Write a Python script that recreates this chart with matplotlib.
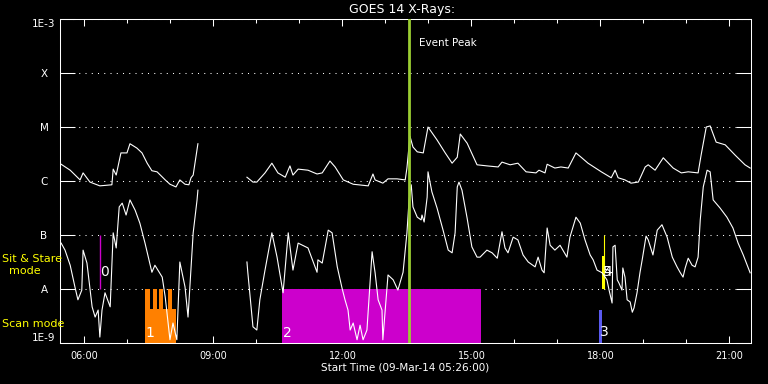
import numpy as np
import matplotlib.pyplot as plt
from matplotlib.ticker import NullLocator

# GOES 14 X-ray light curves, 09-Mar-2014
# time in hours UT, flux given as log10(W/m^2), data gap ~08:40-09:45
LONG_T1 = [5.46, 5.67, 5.90, 5.97, 6.13, 6.36, 6.64, 6.67, 6.74, 6.85, 6.99, 7.06, 7.22,
           7.34, 7.46, 7.57, 7.69, 7.88, 7.99, 8.13, 8.22, 8.34, 8.43, 8.48, 8.53, 8.64]
LONG_F1 = [-5.69, -5.80, -5.98, -5.85, -6.02, -6.09, -6.07, -5.78, -5.89, -5.48, -5.48, -5.31, -5.39,
           -5.48, -5.67, -5.81, -5.83, -5.98, -6.06, -6.11, -5.98, -6.06, -6.07, -5.94, -5.89, -5.31]
LONG_T2 = [9.78, 9.92, 10.01, 10.20, 10.36, 10.50, 10.67, 10.78, 10.85, 10.97, 11.20, 11.41, 11.53,
           11.71, 11.83, 12.02, 12.25, 12.60, 12.71, 12.76, 12.94, 13.06, 13.27, 13.46, 13.50, 13.57,
           13.64, 13.74, 13.88, 13.99, 14.20, 14.39, 14.55, 14.67, 14.74, 14.90, 15.13, 15.36, 15.62,
           15.71, 15.90, 16.08, 16.27, 16.50, 16.57, 16.71, 16.76, 16.94, 17.08, 17.25, 17.43, 17.55,
           17.71, 18.02, 18.25, 18.34, 18.41, 18.57, 18.71, 18.88, 19.04, 19.11, 19.27, 19.46, 19.69,
           19.88, 20.04, 20.27, 20.34, 20.46, 20.55, 20.69, 20.90, 21.13, 21.36, 21.48]
LONG_F2 = [-5.93, -6.02, -6.02, -5.85, -5.67, -5.85, -5.93, -5.72, -5.89, -5.78, -5.80, -5.87, -5.85,
           -5.63, -5.74, -5.98, -6.06, -6.09, -5.87, -5.98, -6.04, -5.96, -5.96, -5.98, -5.76, -5.17,
           -5.37, -5.46, -5.48, -5.00, -5.24, -5.48, -5.67, -5.56, -5.13, -5.30, -5.70, -5.72, -5.74,
           -5.65, -5.70, -5.67, -5.83, -5.85, -5.80, -5.85, -5.69, -5.76, -5.74, -5.76, -5.48, -5.56,
           -5.67, -5.83, -5.94, -5.80, -5.94, -5.98, -6.04, -6.02, -5.74, -5.70, -5.80, -5.57, -5.76,
           -5.85, -5.83, -5.85, -5.52, -5.00, -4.98, -5.28, -5.33, -5.52, -5.70, -5.76]

SHORT_T1 = [5.46, 5.55, 5.67, 5.78, 5.85, 5.94, 5.97, 6.06, 6.18, 6.25, 6.32, 6.36, 6.41, 6.48,
            6.60, 6.67, 6.74, 6.81, 6.88, 6.97, 7.06, 7.18, 7.29, 7.41, 7.57, 7.64, 7.81, 7.88,
            7.99, 8.06, 8.15, 8.22, 8.34, 8.41, 8.53, 8.62, 8.64]
SHORT_F1 = [-7.15, -7.28, -7.56, -7.96, -8.20, -8.02, -7.28, -7.52, -8.33, -8.52, -8.39, -8.89, -8.39, -8.07,
            -8.33, -6.96, -7.24, -6.48, -6.41, -6.63, -6.35, -6.54, -6.78, -7.15, -7.69, -7.56, -7.78, -8.15,
            -8.94, -8.63, -8.94, -7.50, -7.96, -8.52, -6.96, -6.35, -6.17]
SHORT_T2 = [9.78, 9.80, 9.92, 10.01, 10.08, 10.20, 10.36, 10.48, 10.62, 10.74,
            10.85, 10.97, 11.20, 11.41, 11.43, 11.53, 11.67, 11.76, 11.88, 11.99,
            12.06, 12.13, 12.18, 12.25, 12.34, 12.41, 12.48, 12.57, 12.69, 12.76,
            12.83, 12.92, 12.94, 13.04, 13.06, 13.18, 13.29, 13.41, 13.50, 13.55,
            13.60, 13.64, 13.74, 13.83, 13.85, 13.90, 13.97, 13.99, 14.08, 14.20,
            14.34, 14.46, 14.55, 14.62, 14.67, 14.71, 14.78, 14.90, 15.01, 15.13,
            15.20, 15.36, 15.48, 15.60, 15.71, 15.78, 15.85, 15.97, 16.08, 16.20,
            16.32, 16.48, 16.55, 16.64, 16.69, 16.76, 16.83, 16.94, 17.06, 17.22,
            17.29, 17.43, 17.53, 17.64, 17.76, 17.83, 17.92, 18.04, 18.15, 18.20,
            18.27, 18.29, 18.34, 18.39, 18.43, 18.50, 18.52, 18.57, 18.62, 18.69,
            18.74, 18.78, 18.85, 18.92, 18.97, 19.06, 19.11, 19.22, 19.32, 19.43,
            19.55, 19.67, 19.78, 19.85, 19.92, 19.97, 20.04, 20.13, 20.20, 20.27,
            20.32, 20.39, 20.48, 20.55, 20.62, 20.78, 20.94, 21.08, 21.20, 21.32,
            21.48]
SHORT_F2 = [-7.50, -7.69, -8.70, -8.76, -8.20, -7.65, -6.96, -7.41, -8.07, -6.96,
            -7.65, -7.15, -7.24, -7.69, -7.46, -7.52, -6.91, -6.96, -7.59, -7.98,
            -8.20, -8.39, -8.76, -8.63, -8.94, -8.67, -8.94, -8.76, -7.31, -7.70,
            -8.20, -8.39, -8.94, -7.96, -7.74, -7.83, -8.02, -7.69, -6.96, -6.35,
            -6.07, -6.48, -6.67, -6.72, -6.63, -6.76, -6.30, -5.83, -6.20, -6.50,
            -6.91, -7.28, -7.33, -6.96, -6.11, -6.02, -6.17, -6.69, -7.22, -7.41,
            -7.41, -7.28, -7.33, -7.43, -6.94, -7.24, -7.33, -7.04, -7.09, -7.37,
            -7.50, -7.59, -7.41, -7.65, -7.70, -6.87, -7.19, -7.28, -7.19, -7.41,
            -7.04, -6.67, -6.78, -7.09, -7.37, -7.46, -7.65, -7.70, -7.83, -8.02,
            -8.26, -7.22, -7.19, -7.83, -7.89, -8.02, -7.61, -7.78, -8.20, -8.24,
            -8.43, -8.35, -8.07, -7.69, -7.46, -7.02, -7.09, -7.37, -6.91, -6.81,
            -7.04, -7.41, -7.59, -7.69, -7.78, -7.61, -7.43, -7.56, -7.59, -7.41,
            -6.72, -6.11, -5.80, -5.83, -6.35, -6.50, -6.67, -6.87, -7.15, -7.37,
            -7.70]

START_H = 5 + 26 / 60
END_H = 21.5

LEVEL_FLUX = [1e-9, 1e-8, 1e-7, 1e-6, 1e-5, 1e-4, 1e-3]
LEVEL_LABELS = ["1E-9", "A", "B", "C", "M", "X", "1E-3"]
MAJOR_HOURS = [6, 9, 12, 15, 18, 21]
MAJOR_LABELS = ["06:00", "09:00", "12:00", "15:00", "18:00", "21:00"]
MINOR_HOURS = list(range(6, 22))

# observation markers (hours UT, flux)
EVENT_PEAK = 13.55
OBS0_T = 6.36                      # sit & stare line
SCAN1_BASE = (7.41, 8.13, 4.3e-9)
SCAN1_TEETH = [(7.41, 7.53), (7.60, 7.69), (7.74, 7.83), (7.94, 8.04)]
OBS2_SPAN = (10.60, 15.22)
OBS3_BAR = (17.97, 18.04, 4.1e-9)
OBS4_T = 18.08
OBS5_BAR = (18.03, 18.09, 4.1e-8)

OBS_LABELS = [("0", 6.47, 2.1e-8), ("1", 7.52, 1.55e-9), ("2", 10.71, 1.55e-9),
              ("3", 18.10, 1.6e-9), ("4", 18.17, 2.05e-8), ("5", 18.17, 2.05e-8)]

ORANGE = "#ff8000"
MAGENTA = "#cc00cc"
PEAK_GREEN = "#9acd32"
BLUE = "#5a5af0"


def span(ax, t0, t1, lo, hi, color):
    ax.fill_between([t0, t1], [lo, lo], [hi, hi], color=color, lw=0, zorder=2)


fig = plt.figure(figsize=(7.68, 3.84), dpi=100, facecolor="black")
ax = fig.add_axes([60 / 768, 1 - 343 / 384, 691 / 768, 324 / 384])
ax.set_facecolor("black")
ax.set_yscale("log")

# overlays
ax.vlines(OBS0_T, 1e-8, 1e-7, color=MAGENTA, lw=1, zorder=2)
span(ax, *SCAN1_BASE[:2], 1e-9, SCAN1_BASE[2], ORANGE)
for t0, t1 in SCAN1_TEETH:
    span(ax, t0, t1, 1e-9, 1e-8, ORANGE)
span(ax, *OBS2_SPAN, 1e-9, 1e-8, MAGENTA)
span(ax, OBS3_BAR[0], OBS3_BAR[1], 1e-9, OBS3_BAR[2], BLUE)
span(ax, OBS5_BAR[0], OBS5_BAR[1], 1e-8, OBS5_BAR[2], "yellow")
ax.vlines(OBS4_T, 1e-8, 1e-7, color="yellow", lw=0.8, zorder=2)

for t, f in [(LONG_T1, LONG_F1), (LONG_T2, LONG_F2), (SHORT_T1, SHORT_F1), (SHORT_T2, SHORT_F2)]:
    ax.plot(t, 10 ** np.array(f), color="white", lw=0.8, zorder=3)

ax.axvline(EVENT_PEAK, color=PEAK_GREEN, lw=2, zorder=4)
ax.text(13.78, 10 ** -3.44, "Event Peak", color="white", fontsize=7.5, ha="left", va="center")
for s, t, f in OBS_LABELS:
    ax.text(t, f, s, color="white", fontsize=10, ha="center", va="center", zorder=5)

ax.set_xlim(START_H, END_H)
ax.set_ylim(1e-9, 1e-3)

ax.set_yticks(LEVEL_FLUX, LEVEL_LABELS, ha="center")
ax.yaxis.set_minor_locator(NullLocator())
ax.tick_params(axis="y", which="major", direction="in", length=10.8, width=0.75,
               color="white", labelcolor="white", left=True, right=True, pad=11.5, labelsize=7.5)
yt = ax.yaxis.get_major_ticks()
yt[0].label1.set_va("bottom")
yt[-1].label1.set_va("top")

ax.set_xticks(MAJOR_HOURS, MAJOR_LABELS)
ax.set_xticks(MINOR_HOURS, minor=True)
ax.tick_params(axis="x", which="major", direction="in", length=5, width=0.75, color="white",
               labelcolor="white", top=True, bottom=True, pad=5.5, labelsize=7)
ax.tick_params(axis="x", which="minor", direction="in", length=3, width=0.75, color="white",
               top=True, bottom=True)

ax.grid(axis="y", which="major", color="white", lw=0.75, linestyle=(0, (1, 5)), zorder=1)
for sp in ax.spines.values():
    sp.set_color("white")
    sp.set_linewidth(0.75)

fig.text(402 / 768, 1 - 9 / 384, "GOES 14 X-Rays:", color="white", fontsize=9, ha="center", va="center")
fig.text(405 / 768, 1 - 368 / 384, "Start Time (09-Mar-14 05:26:00)", color="white",
         fontsize=7.5, ha="center", va="center")
fig.text(2 / 768, 1 - 259 / 384, "Sit & Stare", color="yellow", fontsize=8, ha="left", va="center")
fig.text(24.5 / 768, 1 - 271 / 384, "mode", color="yellow", fontsize=8, ha="center", va="center")
fig.text(2 / 768, 1 - 324 / 384, "Scan mode", color="yellow", fontsize=8, ha="left", va="center")

fig.savefig("out.png", dpi=100, facecolor="black")
